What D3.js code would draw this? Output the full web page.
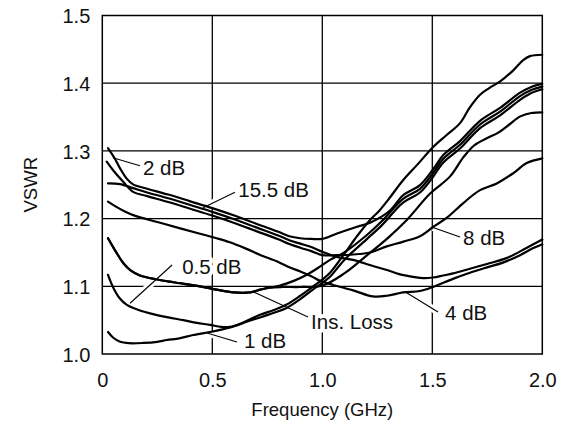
<!DOCTYPE html>
<html>
<head>
<meta charset="utf-8">
<script src="https://cdn.jsdelivr.net/npm/d3@7"></script>
<style>
  html, body { margin: 0; padding: 0; background: #fff; }
  svg { display: block; font-family: "Liberation Sans", Arial, Helvetica, sans-serif; }
</style>
</head>
<body>
<svg id="chart" width="569" height="434"></svg>
<script>
// VSWR vs frequency for each attenuator state.

const xTicks = [0, 0.5, 1.0, 1.5, 2.0];
const yTicks = [1.0, 1.1, 1.2, 1.3, 1.4, 1.5];

// [GHz, VSWR]
const curve2dB = [
  [0.026, 1.304], [0.058, 1.288], [0.081, 1.274], [0.111, 1.259], [0.14, 1.2505],
  [0.2, 1.2445], [0.3, 1.2355], [0.4, 1.2255], [0.5, 1.2155], [0.6, 1.2045],
  [0.7, 1.1925], [0.8, 1.1805], [0.85, 1.174], [0.9, 1.171], [0.95, 1.170],
  [1.0, 1.170], [1.067, 1.178], [1.158, 1.188], [1.217, 1.194], [1.308, 1.212],
  [1.367, 1.2345], [1.444, 1.2495], [1.503, 1.2725], [1.549, 1.2935], [1.626, 1.3145],
  [1.717, 1.3445], [1.808, 1.3635], [1.899, 1.386], [1.95, 1.3945], [2.0, 1.399],
];
const curve15dB = [
  [0.026, 1.252], [0.08, 1.251], [0.14, 1.245], [0.2, 1.239], [0.3, 1.230],
  [0.4, 1.220], [0.5, 1.210], [0.6, 1.199], [0.7, 1.187], [0.8, 1.175],
  [0.85, 1.168], [0.9, 1.163], [0.95, 1.158], [1.0, 1.151], [1.07, 1.143],
  [1.14, 1.139], [1.22, 1.131], [1.294, 1.124], [1.35, 1.118], [1.412, 1.114],
  [1.46, 1.112], [1.503, 1.113], [1.55, 1.116], [1.594, 1.119], [1.671, 1.126],
  [1.749, 1.133], [1.84, 1.142], [1.93, 1.157], [2.0, 1.169],
];
const curve8dB = [
  [0.02, 1.284], [0.05, 1.271], [0.096, 1.254], [0.14, 1.2395], [0.2, 1.2335],
  [0.3, 1.2245], [0.4, 1.2145], [0.5, 1.2045], [0.6, 1.1935], [0.7, 1.1815],
  [0.8, 1.1695], [0.85, 1.1625], [0.9, 1.157], [0.95, 1.152], [1.0, 1.146],
  [1.065, 1.146], [1.14, 1.147], [1.217, 1.150], [1.293, 1.159], [1.369, 1.166],
  [1.444, 1.174], [1.505, 1.188], [1.565, 1.201], [1.641, 1.223], [1.717, 1.242],
  [1.793, 1.252], [1.868, 1.267], [1.929, 1.282], [2.0, 1.289],
];
const curve4dB = [
  [0.026, 1.225], [0.06, 1.218], [0.1, 1.211], [0.15, 1.204], [0.25, 1.195],
  [0.35, 1.186], [0.44, 1.178], [0.52, 1.171], [0.58, 1.165], [0.65, 1.156],
  [0.72, 1.146], [0.8, 1.136], [0.85, 1.128], [0.9, 1.122], [0.95, 1.115],
  [0.99, 1.108], [1.05, 1.102], [1.14, 1.094], [1.23, 1.085], [1.294, 1.086],
  [1.367, 1.091], [1.444, 1.093], [1.503, 1.099], [1.594, 1.111], [1.671, 1.120],
  [1.749, 1.128], [1.821, 1.135], [1.899, 1.146], [1.95, 1.155], [2.0, 1.162],
];
const curveInsLoss = [
  [0.026, 1.171], [0.06, 1.152], [0.096, 1.134], [0.13, 1.123], [0.171, 1.116],
  [0.25, 1.110], [0.323, 1.106], [0.444, 1.100], [0.52, 1.095], [0.596, 1.091],
  [0.671, 1.091], [0.717, 1.095], [0.76, 1.098], [0.807, 1.101], [0.87, 1.108],
  [0.93, 1.117], [0.98, 1.127], [1.035, 1.139], [1.1, 1.150], [1.2, 1.175],
  [1.27, 1.196], [1.367, 1.229], [1.444, 1.244], [1.503, 1.267], [1.549, 1.288],
  [1.626, 1.309], [1.717, 1.339], [1.808, 1.358], [1.899, 1.381], [1.95, 1.390],
  [2.0, 1.395],
];
// unlabelled trace, hidden under Ins. Loss below 0.8 GHz
const curveOther = [
  [0.026, 1.171], [0.06, 1.152], [0.096, 1.134], [0.13, 1.123], [0.171, 1.116],
  [0.25, 1.110], [0.323, 1.106], [0.444, 1.100], [0.52, 1.095], [0.596, 1.091],
  [0.671, 1.091], [0.717, 1.095], [0.76, 1.098], [0.82, 1.099], [0.9, 1.099],
  [1.0, 1.101], [1.1, 1.119], [1.2, 1.145], [1.3, 1.172], [1.384, 1.198],
  [1.49, 1.237], [1.58, 1.262], [1.64, 1.290], [1.69, 1.308], [1.75, 1.319],
  [1.8, 1.327], [1.85, 1.339], [1.9, 1.351], [1.95, 1.356], [2.0, 1.357],
];
const curve05dB = [
  [0.026, 1.117], [0.05, 1.098], [0.08, 1.082], [0.11, 1.073], [0.141, 1.068],
  [0.217, 1.060], [0.3, 1.054], [0.368, 1.050], [0.43, 1.046], [0.49, 1.043],
  [0.54, 1.040], [0.58, 1.040], [0.63, 1.045], [0.717, 1.058], [0.78, 1.065],
  [0.838, 1.073], [0.9, 1.086], [0.959, 1.100], [1.0, 1.110], [1.035, 1.120],
  [1.1, 1.148], [1.16, 1.175], [1.217, 1.198], [1.26, 1.212], [1.3, 1.228],
  [1.368, 1.257], [1.43, 1.279], [1.505, 1.306], [1.56, 1.322], [1.626, 1.341],
  [1.67, 1.364], [1.717, 1.383], [1.76, 1.393], [1.81, 1.403], [1.868, 1.419],
  [1.913, 1.434], [1.944, 1.440], [2.0, 1.442],
];
const curve1dB = [
  [0.026, 1.0325], [0.05, 1.024], [0.081, 1.018], [0.12, 1.016], [0.185, 1.0163],
  [0.25, 1.018], [0.294, 1.0207], [0.35, 1.023], [0.412, 1.028], [0.49, 1.0325],
  [0.54, 1.036], [0.6, 1.041], [0.66, 1.048], [0.717, 1.054], [0.78, 1.061],
  [0.838, 1.068], [0.9, 1.081], [0.957, 1.095], [1.0, 1.105], [1.035, 1.114],
  [1.1, 1.139], [1.2, 1.169], [1.27, 1.190], [1.367, 1.2235], [1.444, 1.2385],
  [1.503, 1.2615], [1.549, 1.2825], [1.626, 1.3035], [1.717, 1.3335], [1.808, 1.3525],
  [1.899, 1.3755], [1.95, 1.3855], [2.0, 1.391],
];

const curves = [curve2dB, curve15dB, curve8dB, curve4dB, curveInsLoss,
  curveOther, curve05dB, curve1dB];

// label text, text anchor [GHz, VSWR], leader from/to [GHz, VSWR]
const labels = [
  { text: "2 dB",      at: [0.185, 1.2644], from: [0.048, 1.290], to: [0.171, 1.278] },
  { text: "15.5 dB",   at: [0.618, 1.2319], from: [0.458, 1.216], to: [0.603, 1.239] },
  { text: "0.5 dB",    at: [0.363, 1.1182], from: [0.126, 1.075], to: [0.317, 1.1315] },
  { text: "1 dB",      at: [0.644, 1.0089], from: [0.476, 1.031], to: [0.612, 1.0177] },
  { text: "Ins. Loss", at: [0.949, 1.0369], from: [0.685, 1.092], to: [0.935, 1.0547] },
  { text: "8 dB",      at: [1.640, 1.1610], from: [1.503, 1.187], to: [1.626, 1.1728] },
  { text: "4 dB",      at: [1.558, 1.0502], from: [1.376, 1.092], to: [1.526, 1.062] },
];

// ── layout ───────────────────────────────────────────────────────────────

const svg = d3.select("#chart");
const L = 102.3, R = 542.3, T = 15.5, B = 354;
const x = d3.scaleLinear().domain([0, 2]).range([L, R]);
const y = d3.scaleLinear().domain([1.0, 1.5]).range([B, T]);
const LABEL_FONT = 20.5, TICK_FONT = 20, TITLE_FONT = 18.5;

// grid
svg.append("g").selectAll("line").data(xTicks.slice(1, -1)).join("line")
  .attr("x1", d => x(d)).attr("x2", d => x(d)).attr("y1", T).attr("y2", B)
  .attr("stroke", "#000").attr("stroke-width", 1.3);
svg.append("g").selectAll("line").data(yTicks.slice(1, -1)).join("line")
  .attr("x1", L).attr("x2", R).attr("y1", d => y(d)).attr("y2", d => y(d))
  .attr("stroke", "#000").attr("stroke-width", 1.3);

// white halos under labels/leaders so they cut the grid, not the traces
const halo = svg.append("g");
halo.selectAll("line").data(labels).join("line")
  .attr("x1", d => x(d.from[0])).attr("y1", d => y(d.from[1]))
  .attr("x2", d => x(d.to[0])).attr("y2", d => y(d.to[1]))
  .attr("stroke", "#fff").attr("stroke-width", 7);
halo.selectAll("text").data(labels).join("text")
  .attr("x", d => x(d.at[0])).attr("y", d => y(d.at[1]))
  .attr("font-size", LABEL_FONT).text(d => d.text)
  .attr("fill", "#fff").attr("stroke", "#fff").attr("stroke-width", 8)
  .attr("stroke-linejoin", "round");

// frame
svg.append("rect").attr("x", L).attr("y", T).attr("width", R - L).attr("height", B - T)
  .attr("fill", "none").attr("stroke", "#000").attr("stroke-width", 1.5);

// ── traces ───────────────────────────────────────────────────────────────

const line = d3.line().x(d => x(d[0])).y(d => y(d[1])).curve(d3.curveCatmullRom.alpha(0.5));
svg.append("g").selectAll("path").data(curves).join("path")
  .attr("d", line).attr("fill", "none").attr("stroke", "#000")
  .attr("stroke-width", 2.2).attr("stroke-linejoin", "round").attr("stroke-linecap", "round");

// ── labels ───────────────────────────────────────────────────────────────

const lab = svg.append("g");
lab.selectAll("line").data(labels).join("line")
  .attr("x1", d => x(d.from[0])).attr("y1", d => y(d.from[1]))
  .attr("x2", d => x(d.to[0])).attr("y2", d => y(d.to[1]))
  .attr("stroke", "#000").attr("stroke-width", 1.1);
lab.selectAll("text").data(labels).join("text")
  .attr("x", d => x(d.at[0])).attr("y", d => y(d.at[1]))
  .attr("font-size", LABEL_FONT).attr("fill", "#111").text(d => d.text);

// ── axes ─────────────────────────────────────────────────────────────────

const xAxis = svg.append("g").attr("transform", `translate(0,${B})`)
  .call(d3.axisBottom(x).tickValues(xTicks).tickSize(0).tickPadding(0)
    .tickFormat(d => d === 0 ? "0" : d3.format(".1f")(d)));
xAxis.select(".domain").remove();
xAxis.selectAll("text").attr("dy", null).attr("y", 33)
  .attr("font-size", TICK_FONT).attr("font-family", null).attr("fill", "#111");

const yAxis = svg.append("g").attr("transform", `translate(${L},0)`)
  .call(d3.axisLeft(y).tickValues(yTicks).tickSize(0).tickPadding(0)
    .tickFormat(d3.format(".1f")));
yAxis.select(".domain").remove();
yAxis.selectAll("text").attr("x", -12).attr("dy", "0.36em")
  .attr("font-size", TICK_FONT).attr("font-family", null).attr("fill", "#111");

svg.append("text").attr("x", (L + R) / 2).attr("y", 416).attr("text-anchor", "middle")
  .attr("font-size", TITLE_FONT).attr("fill", "#111").text("Frequency (GHz)");
svg.append("text").attr("transform", `translate(37,${(T + B) / 2}) rotate(-90)`)
  .attr("text-anchor", "middle").attr("font-size", TITLE_FONT).attr("fill", "#111").text("VSWR");
</script>
</body>
</html>
